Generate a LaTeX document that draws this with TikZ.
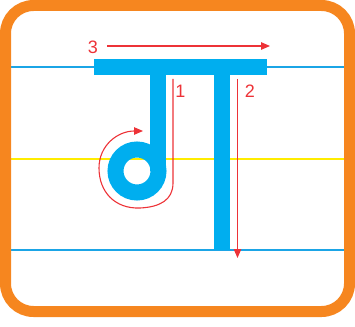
\documentclass[tikz,border=0pt]{standalone}
\usepackage{fontspec}
\setsansfont{Liberation Sans}
\definecolor{frameorange}{RGB}{246,134,31}
\definecolor{inkcyan}{RGB}{0,174,239}
\definecolor{rulecyan}{RGB}{27,165,230}
\definecolor{ruleyellow}{RGB}{255,236,0}
\definecolor{strokered}{RGB}{237,50,55}
\usetikzlibrary{arrows.meta}

\begin{document}
\begin{tikzpicture}[x=1pt,y=-1pt,
          rule/.style={line width=1.5pt},
          ink/.style={draw=inkcyan,line width=16pt},
          guide/.style={strokered,line width=1.1pt,-{Triangle[length=9pt,width=7.5pt]}},
          num/.style={strokered,font=\sffamily\fontsize{18}{18}\selectfont,inner sep=0pt}]
        \useasboundingbox (0,0) rectangle (355,326);
        % writing lines
        \draw[rule,rulecyan] (11,67) -- (344,67);
        \draw[rule,ruleyellow] (11,159) -- (344,159);
        \draw[rule,rulecyan] (11,250) -- (344,250);
        % the letter
        \fill[inkcyan] (94,59) rectangle (267,75);
        \draw[ink] (158,74) -- (158,171);
        \draw[ink] (137,171) circle[radius=21.5];
        \fill[inkcyan] (214,74) rectangle (230,250);
        % stroke order
        \coordinate (s1) at (173,79);
        \coordinate (e1) at (143,131);
        \coordinate (s2) at (237.5,79);
        \coordinate (e2) at (237.5,258);
        \coordinate (s3) at (107,46);
        \coordinate (e3) at (270,46);
        \draw[guide] (s1) -- (173,183)
          .. controls (173,200) and (160,207) .. (140,208)
          .. controls (115,209) and (99,192) .. (99,168)
          .. controls (99,145) and (118,131) .. (e1);
        \draw[guide] (s2) -- (e2);
        \draw[guide] (s3) -- (e3);
        \node[num] (n1) at (180.5,91) {1};
        \node[num] (n2) at (250,91) {2};
        \node[num] (n3) at (93,47) {3};
        % frame
        \draw[frameorange,line width=11pt,rounded corners=28pt] (5.5,5.5) rectangle (349.5,311.5);
      \end{tikzpicture}
\end{document}
